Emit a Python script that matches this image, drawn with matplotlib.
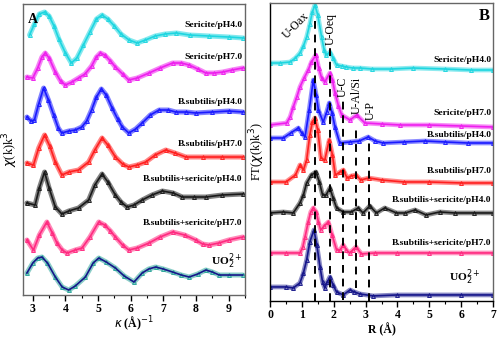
import matplotlib.pyplot as plt
from matplotlib.ticker import MultipleLocator

# ---- Panel A: chi(k)k^3, valores apilados (unidades arbitrarias) ----
k_ser4 = [2.9, 3.05, 3.2, 3.36, 3.5, 3.65, 3.8, 4.0, 4.18, 4.35, 4.55, 4.75, 4.95, 5.12, 5.3,
          5.5, 5.7, 5.95, 6.2, 6.45, 6.75, 7.05, 7.4, 7.8, 8.4, 9.0, 9.45]
chi_ser4 = [260, 271, 281, 283, 279, 269, 256, 242, 232, 237, 250, 263, 276, 280, 276,
            269, 261, 255, 252, 255, 259, 261, 262, 260, 259, 258, 257]

k_ser7 = [2.82, 3.0, 3.15, 3.28, 3.38, 3.5, 3.69, 3.85, 4.0, 4.2, 4.4, 4.6, 4.8, 4.95, 5.07, 5.2,
          5.38, 5.53, 5.75, 5.94, 6.2, 6.56, 6.9, 7.28, 7.55, 7.79, 8.05, 8.3, 8.55, 8.82, 9.1, 9.43]
chi_ser7 = [218, 217, 227, 238, 242, 237, 223, 214, 210, 213, 217, 221, 229, 238, 242, 240,
            234, 228, 221, 215, 217, 222, 227, 232, 232, 230, 226, 222, 222, 223, 225, 227]

k_bs4 = [2.82, 2.95, 3.05, 3.18, 3.33, 3.48, 3.64, 3.78, 3.89, 4.1, 4.3, 4.5, 4.65, 4.8, 4.95, 5.1,
         5.25, 5.43, 5.6, 5.74, 5.94, 6.15, 6.35, 6.6, 6.87, 7.15, 7.38, 7.7, 7.99, 8.5, 9.0, 9.43]
chi_bs4 = [178, 174, 175, 191, 207, 195, 180, 167, 162, 164, 165, 168, 174, 185, 198, 206,
           200, 187, 176, 168, 162, 166, 172, 180, 185, 185, 183, 183, 182, 183, 184, 183]

k_bs7 = [2.82, 3.02, 3.18, 3.36, 3.52, 3.69, 3.89, 4.1, 4.4, 4.71, 4.9, 5.12, 5.3, 5.53, 5.75,
         5.94, 6.2, 6.46, 6.75, 7.07, 7.35, 7.69, 8.2, 8.8, 9.43]
chi_bs7 = [132, 130, 147, 160, 149, 133, 120, 123, 125, 133, 145, 157, 150, 138, 131,
           128, 130, 133, 140, 145, 142, 138, 138, 138, 138]

k_mix4 = [2.82, 3.07, 3.2, 3.36, 3.5, 3.69, 3.89, 4.1, 4.4, 4.71, 4.9, 5.12, 5.3, 5.53, 5.7,
          5.89, 6.1, 6.35, 6.65, 6.97, 7.3, 7.58, 7.95, 8.3, 8.8, 9.43]
chi_mix4 = [92, 90, 107, 123, 107, 88, 81, 84, 87, 95, 110, 121, 113, 100, 93,
            88, 90, 95, 100, 104, 102, 98, 98, 98, 100, 101]

k_mix7 = [2.82, 3.02, 3.2, 3.43, 3.6, 3.74, 3.9, 4.05, 4.3, 4.51, 4.75, 5.02, 5.2, 5.38, 5.53,
          5.75, 5.94, 6.2, 6.56, 6.9, 7.28, 7.65, 7.99, 8.2, 8.4, 8.7, 9.0, 9.43]
chi_mix7 = [55, 45, 60, 73, 62, 52, 45, 42, 45, 47, 58, 73, 70, 64, 58,
            50, 45, 47, 52, 58, 63, 60, 55, 51, 50, 52, 55, 58]

k_uo2 = [2.82, 3.0, 3.15, 3.28, 3.45, 3.69, 3.9, 4.1, 4.3, 4.61, 4.85, 5.02, 5.25, 5.53, 5.8,
         6.1, 6.35, 6.55, 6.76, 7.0, 7.28, 7.55, 7.79, 8.05, 8.3, 8.5, 8.71, 9.0, 9.43]
chi_uo2 = [22, 32, 37, 38, 32, 18, 8, 5, 9, 18, 32, 37, 33, 27, 19,
           13, 22, 26, 28, 26, 23, 20, 18, 21, 25, 23, 20, 20, 20]

# ---- Panel B: FT, valores apilados ----
r_ser4 = [0, 0.3, 0.63, 0.8, 0.94, 1.05, 1.15, 1.25, 1.33, 1.41, 1.5, 1.62, 1.7, 1.76, 1.88,
          1.98, 2.09, 2.25, 2.4, 2.6, 2.82, 3.2, 3.8, 4.5, 5.5, 6.3, 7.0]
ft_ser4 = [238, 238, 239, 243, 248, 255, 264, 277, 289, 296, 286, 264, 251, 246, 249,
           243, 236, 235, 234, 233, 233, 232, 232, 233, 232, 231, 231]

r_ser7 = [0, 0.52, 0.63, 0.73, 0.84, 0.94, 1.07, 1.2, 1.3, 1.44, 1.53, 1.62, 1.72, 1.88, 1.96,
          2.04, 2.15, 2.25, 2.51, 2.72, 2.98, 3.5, 4.08, 5.0, 6.0, 7.0]
ft_ser7 = [176, 178, 184, 194, 204, 214, 223, 231, 239, 246, 233, 223, 219, 228, 221,
           208, 195, 186, 181, 186, 178, 177, 176, 176, 175, 174]

r_bs4 = [0, 0.42, 0.65, 0.89, 1.0, 1.1, 1.23, 1.36, 1.45, 1.52, 1.67, 1.78, 1.86, 1.95, 2.04,
         2.19, 2.51, 2.8, 3.08, 3.3, 3.55, 4.2, 4.86, 5.5, 6.2, 7.0]
ft_bs4 = [163, 163, 168, 173, 168, 164, 191, 221, 206, 191, 179, 189, 198, 188, 174,
          158, 159, 160, 164, 160, 158, 159, 160, 159, 158, 158]

r_bs7 = [0, 0.5, 0.8, 0.94, 1.05, 1.15, 1.25, 1.33, 1.41, 1.5, 1.6, 1.72, 1.86, 1.96, 2.05,
         2.2, 2.3, 2.42, 2.55, 2.7, 2.85, 3.1, 3.5, 4.2, 5.0, 6.0, 7.0]
ft_bs7 = [119, 119, 126, 136, 131, 141, 166, 179, 183, 171, 143, 141, 161, 146, 126,
          129, 131, 123, 125, 126, 121, 123, 121, 119, 119, 118, 118]

r_mix4 = [0, 0.42, 0.73, 0.94, 1.05, 1.15, 1.3, 1.44, 1.55, 1.65, 1.76, 1.88, 1.98, 2.09, 2.3,
          2.55, 2.77, 2.92, 3.13, 3.34, 3.6, 3.97, 4.25, 4.55, 4.9, 5.33, 5.8, 6.4, 7.0]
ft_mix4 = [88, 89, 88, 98, 106, 118, 126, 129, 119, 106, 106, 113, 103, 93, 89,
           89, 93, 88, 95, 88, 93, 88, 88, 91, 86, 89, 88, 88, 88]

r_mix7 = [0, 0.5, 0.94, 1.03, 1.1, 1.2, 1.28, 1.36, 1.45, 1.52, 1.59, 1.7, 1.83, 1.95, 2.09,
          2.2, 2.3, 2.4, 2.5, 2.6, 2.7, 2.87, 3.3, 4.0, 5.0, 6.0, 7.0]
ft_mix7 = [48, 48, 48, 54, 64, 79, 89, 93, 89, 79, 71, 75, 79, 66, 51,
           51, 56, 51, 48, 51, 54, 47, 48, 48, 48, 48, 48]

r_uo2 = [0, 0.5, 0.73, 0.94, 1.05, 1.15, 1.25, 1.38, 1.47, 1.57, 1.65, 1.72, 1.8, 1.88, 1.98,
         2.09, 2.3, 2.51, 2.65, 2.82, 3.24, 4.0, 5.0, 6.0, 7.0]
ft_uo2 = [14, 14, 13, 18, 28, 41, 59, 71, 56, 34, 19, 13, 19, 24, 16,
          9, 6, 11, 9, 7, 5, 6, 6, 6, 6]

labels = ["Sericite/pH4.0", "Sericite/pH7.0", "B.subtilis/pH4.0", "B.subtilis/pH7.0",
          "B.subtilis+sericite/pH4.0", "B.subtilis+sericite/pH7.0", r"UO$_{2}^{2+}$"]
colors = ["#1ed6e0", "#ee1fee", "#1a1aff", "#ff2020", "#1a1a1a", "#ff2a80", "#16168a"]

# posiciones de las etiquetas (altura en unidades de cada panel)
label_y_a = [270, 238, 193, 151, 116, 72, 34]
label_y_b = [241, 188, 166, 130, 101, 58, 24]

# capas y lineas discontinuas del panel B
shell_r = [1.41, 1.88, 2.3, 2.7, 3.11]
shell_top = [286, 253, 201, 176, 161]
shell_bot = [0, 0, 1, 13, 0]
shell_names = ["U-Oax", "U-Oeq", "U-C", "U-Al/Si", "U-P"]

plt.rcParams['font.family'] = ['Liberation Serif', 'DejaVu Serif']

fig = plt.figure(figsize=(5, 3.37), dpi=100)
axA = fig.add_axes([0.046, 0.1246, 0.444, 0.8635])
axB = fig.add_axes([0.54, 0.107, 0.446, 0.884])

series_a = [(k_ser4, chi_ser4), (k_ser7, chi_ser7), (k_bs4, chi_bs4), (k_bs7, chi_bs7),
            (k_mix4, chi_mix4), (k_mix7, chi_mix7), (k_uo2, chi_uo2)]
series_b = [(r_ser4, ft_ser4), (r_ser7, ft_ser7), (r_bs4, ft_bs4), (r_bs7, ft_bs7),
            (r_mix4, ft_mix4), (r_mix7, ft_mix7), (r_uo2, ft_uo2)]

for i, (x, y) in enumerate(series_a):
    data_col = "#2aa59a" if i == 6 else colors[i]
    axA.plot(x, y, color=data_col, lw=3.6, alpha=0.55, solid_capstyle='round')
    axA.plot(x, y, ls='none', marker='^', ms=2.8, mfc='none', mec=data_col, mew=0.7)
    axA.plot(x, y, color=colors[i], lw=1.2)

for i, (x, y) in enumerate(series_b):
    axB.plot(x, y, color=colors[i], lw=3.4, alpha=0.5, solid_capstyle='round')
    axB.plot(x, y, ls='none', marker='^', ms=2.8, mfc='none', mec=colors[i], mew=0.7)
    axB.plot(x, y, color=colors[i], lw=1.2)

axB.vlines(shell_r, shell_bot, shell_top, colors='black', linestyles=(0, (4, 3)), lw=1.4, zorder=5)

for i, lab in enumerate(labels):
    fs = 8.2 if i == 6 else 6.8
    axA.text(9.42, label_y_a[i], lab, ha='right', va='center', fontsize=fs, fontweight='bold')
    axB.text(6.95 if i < 6 else 6.6, label_y_b[i], lab, ha='right', va='center',
             fontsize=fs, fontweight='bold')

# etiquetas de las capas
axB.text(0.82, 275, shell_names[0], rotation=45, ha='center', va='center', fontsize=8.5)
axB.text(1.92, 272, shell_names[1], rotation=90, ha='center', va='center', fontsize=8.5)
axB.text(2.29, 214, shell_names[2], rotation=90, ha='center', va='center', fontsize=8.5)
axB.text(2.72, 206, shell_names[3], rotation=90, ha='center', va='center', fontsize=8.5)
axB.text(3.16, 190, shell_names[4], rotation=90, ha='center', va='center', fontsize=8.5)

axA.text(0.02, 0.97, "A", transform=axA.transAxes, ha='left', va='top', fontsize=10, fontweight='bold')
axB.text(0.985, 0.985, "B", transform=axB.transAxes, ha='right', va='top', fontsize=12, fontweight='bold')

axA.set_xlim(2.7, 9.5)
axA.set_ylim(0, 291)
axB.set_xlim(0, 7)
axB.set_ylim(0, 298)

for ax in (axA, axB):
    ax.set_yticks([])
    ax.xaxis.set_major_locator(MultipleLocator(1))
    ax.xaxis.set_minor_locator(MultipleLocator(0.5))
    ax.tick_params(axis='x', which='major', length=4, width=1, labelsize=8.5, pad=2)
    ax.tick_params(axis='x', which='minor', length=2.5, width=0.8)
    for lab in ax.get_xticklabels():
        lab.set_fontweight('bold')
    for sp in ax.spines.values():
        sp.set_color('#666666')
        sp.set_linewidth(1.0)

axB.spines['bottom'].set_color('black')
axB.spines['left'].set_color('black')

axA.set_xlabel(r"$\kappa$ (Å)$^{-1}$", fontsize=8.5, fontweight='bold', labelpad=0)
axB.set_xlabel("R (Å)", fontsize=8.5, fontweight='bold', labelpad=1)
axA.set_ylabel(r"$\chi$(k)k$^3$", fontsize=9, labelpad=2)
axB.set_ylabel(r"FT($\chi$(k)k$^3$)", fontsize=9, labelpad=2)

fig.savefig("out.png", dpi=100)
